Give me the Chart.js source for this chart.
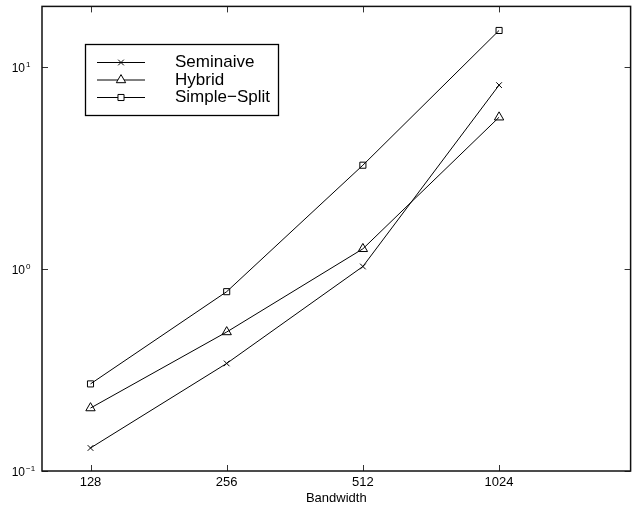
<!DOCTYPE html>
<html>
<head>
<meta charset="utf-8">
<script src="https://cdn.jsdelivr.net/npm/chart.js@4"></script>
<style>
  html, body { margin: 0; padding: 0; background: #fff; }
  #wrap { width: 637px; height: 510px; }
</style>
</head>
<body>
<div id="wrap"><canvas id="chart" width="637" height="510"></canvas></div>
<script>
// Runtime (log scale) for each algorithm at each bandwidth.
const bandwidths  = [128, 256, 512, 1024];
const seminaive   = [0.130, 0.341, 1.03, 8.15];
const hybrid      = [0.205, 0.488, 1.26, 5.65];
const simpleSplit = [0.270, 0.773, 3.27, 15.2];
const seriesNames = ['Seminaive', 'Hybrid', 'Simple\u2212Split'];
const yTickValues = [0.1, 1, 10];
const yTickExps   = ['\u22121', '0', '1'];

const FONT = '"Liberation Sans", Arial, Helvetica, sans-serif';

const makeSeries = (label, values, pointStyle, radius) => ({
  label,
  data: bandwidths.map((b, i) => ({ x: b, y: values[i] })),
  borderColor: '#000',
  borderWidth: 1,
  backgroundColor: 'rgba(0,0,0,0)',
  pointStyle,
  pointRadius: radius,
  pointHoverRadius: radius,
  pointBorderColor: '#000',
  pointBackgroundColor: 'rgba(0,0,0,0)',
  pointBorderWidth: 1,
  tension: 0,
  clip: false
});

// Frame, inward ticks, superscript y labels and the boxed legend are drawn by hand
// because Chart.js has no matlab-style equivalents.
const matlabFrame = {
  id: 'matlabFrame',
  afterDraw(chart) {
    const { ctx, chartArea: a, scales: { x, y } } = chart;
    const tick = 6;
    ctx.save();

    ctx.strokeStyle = '#333';
    ctx.lineWidth = 1;
    ctx.beginPath();
    bandwidths.forEach(b => {
      const px = Math.round(x.getPixelForValue(b)) + 0.5;
      ctx.moveTo(px, a.bottom); ctx.lineTo(px, a.bottom - tick);
      ctx.moveTo(px, a.top);    ctx.lineTo(px, a.top + tick);
    });
    yTickValues.forEach(v => {
      const py = Math.round(y.getPixelForValue(v)) + 0.5;
      ctx.moveTo(a.left, py);  ctx.lineTo(a.left + tick, py);
      ctx.moveTo(a.right, py); ctx.lineTo(a.right - tick, py);
    });
    ctx.stroke();

    ctx.strokeStyle = '#111';
    ctx.lineWidth = 1.5;
    ctx.strokeRect(a.left, a.top, a.right - a.left, a.bottom - a.top);

    // y labels: 10 with superscript exponent
    ctx.fillStyle = '#000';
    yTickValues.forEach((v, i) => {
      const py = y.getPixelForValue(v);
      ctx.font = '12px ' + FONT;
      ctx.textAlign = 'right';
      ctx.textBaseline = 'alphabetic';
      ctx.fillText('10', 25, py + 5);
      ctx.font = '8px ' + FONT;
      ctx.textAlign = 'left';
      ctx.fillText(yTickExps[i], 26, py - 0.5);
    });

    // legend
    const box = { left: 85.5, top: 44.5, w: 193, h: 71 };
    ctx.fillStyle = '#fff';
    ctx.fillRect(box.left, box.top, box.w, box.h);
    ctx.strokeStyle = '#000';
    ctx.lineWidth = 1.3;
    ctx.strokeRect(box.left, box.top, box.w, box.h);
    chart.data.datasets.forEach((ds, i) => {
      const ly = 62.5 + i * 17.5;
      ctx.strokeStyle = '#000';
      ctx.lineWidth = 1;
      ctx.beginPath();
      ctx.moveTo(97, ly); ctx.lineTo(145, ly);
      ctx.stroke();
      ctx.fillStyle = '#fff';
      Chart.helpers.drawPoint(ctx, {
        pointStyle: ds.pointStyle, radius: ds.pointRadius, borderWidth: 1, rotation: 0
      }, 121, ly);
      ctx.fillStyle = '#000';
      ctx.font = '17px ' + FONT;
      ctx.textAlign = 'left';
      ctx.textBaseline = 'middle';
      ctx.fillText(seriesNames[i], 175, ly);
    });
    ctx.restore();
  }
};

new Chart(document.getElementById('chart'), {
  type: 'line',
  data: {
    datasets: [
      makeSeries(seriesNames[0], seminaive, 'crossRot', 4),
      makeSeries(seriesNames[1], hybrid, 'triangle', 5.4),
      makeSeries(seriesNames[2], simpleSplit, 'rect', 4.3)
    ]
  },
  options: {
    responsive: false,
    animation: false,
    events: [],
    layout: { padding: { left: 0, top: 6, right: 5, bottom: 0 } },
    plugins: { legend: { display: false }, tooltip: { enabled: false } },
    scales: {
      x: {
        type: 'logarithmic',
        min: 100,
        max: 2000,
        afterBuildTicks: scale => { scale.ticks = bandwidths.map(v => ({ value: v })); },
        afterFit: scale => { scale.height = 39; },
        grid: { display: false, drawTicks: false, tickLength: 0 },
        border: { display: false },
        ticks: {
          autoSkip: false, maxRotation: 0, padding: 4, color: '#000',
          font: { family: FONT, size: 13 },
          callback: value => String(value)
        },
        title: {
          display: true, text: 'Bandwidth', color: '#000',
          font: { family: FONT, size: 13 },
          padding: { top: 0, bottom: 4 }
        }
      },
      y: {
        type: 'logarithmic',
        min: 0.1,
        max: 20,
        afterFit: scale => { scale.width = 42; },
        grid: { display: false },
        border: { display: false },
        ticks: { display: false }
      }
    }
  },
  plugins: [matlabFrame]
});
</script>
</body>
</html>
